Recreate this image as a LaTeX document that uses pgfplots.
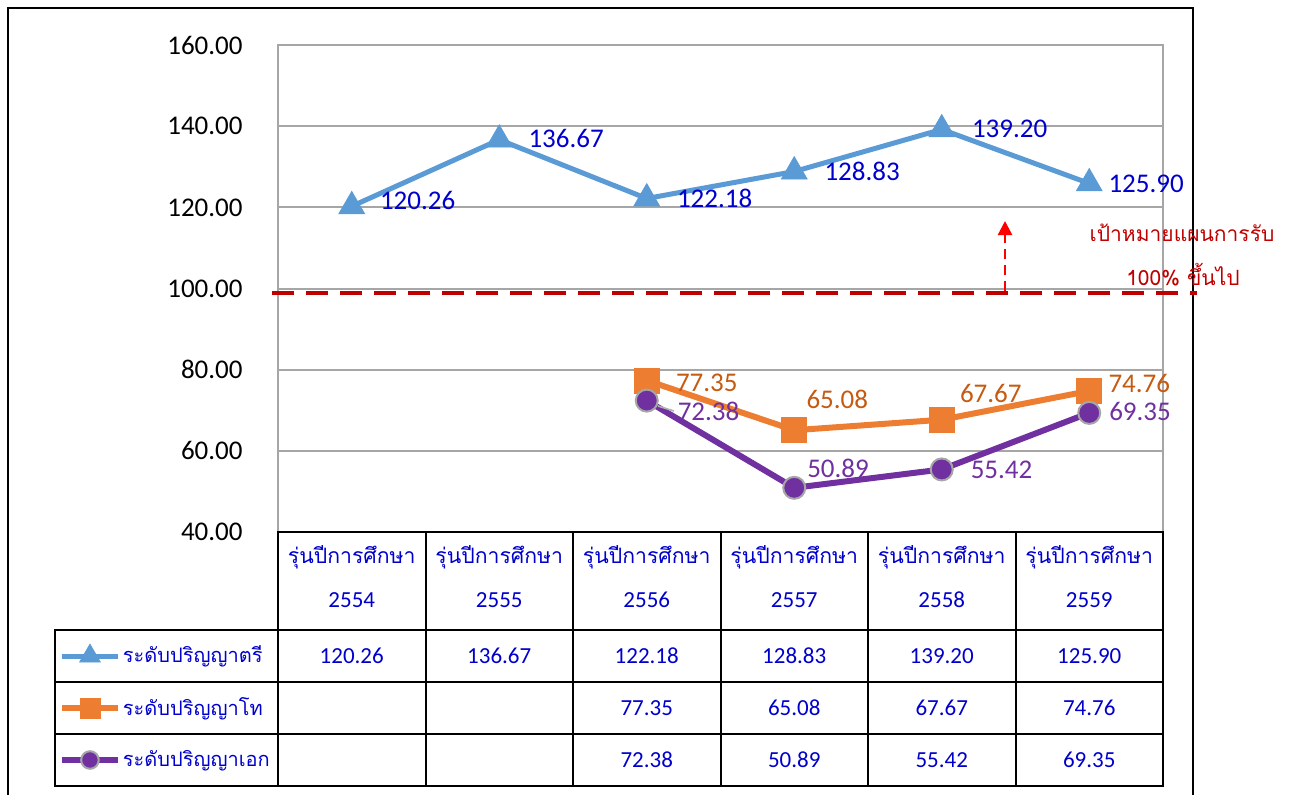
\documentclass[border=0pt]{standalone}
\usepackage{pgfplots}
\pgfplotsset{compat=1.18}
\usepackage{pgfplotstable}
\usepackage{fontspec}
\setmainfont{Carlito}
\newfontfamily\thai[Script=Thai]{Loma}
\usetikzlibrary{arrows.meta}
\definecolor{sblue}{HTML}{5B9BD5}
\definecolor{sorange}{HTML}{ED7D31}
\definecolor{spurple}{HTML}{7030A0}
\definecolor{lblue}{HTML}{0000CC}
\definecolor{lorange}{HTML}{C55A11}
\definecolor{tred}{HTML}{C00000}
\definecolor{gridgray}{HTML}{A6A6A6}

\pgfplotstableread{
x y dx dy
0 120.26 14 3
1 136.67 14.5 0.5
2 122.18 15 0
3 128.83 15 0
4 139.20 15 0.5
5 125.90 9.5 0
}\bach
\pgfplotstableread{
x y dx dy
2 77.35 14.5 -1
3 65.08 6 15.5
4 67.67 9 13
5 74.76 9.5 3.5
}\master
\pgfplotstableread{
x y dx dy
2 72.38 15 -5.5
3 50.89 6 9.5
4 55.42 14 0
5 69.35 9.5 0.5
}\doctor

\begin{document}
\begin{tikzpicture}
\path[use as bounding box] (0,0) rectangle (644.5pt,-397pt);
\begin{axis}[
  at={(139pt,-266pt)}, anchor=south west,
  scale only axis, width=442.5pt, height=243.5pt,
  xmin=-0.5, xmax=5.5, ymin=40, ymax=160,
  ytick={40,60,...,160}, xtick=\empty,
  ymajorgrids, grid style={gridgray, line width=1pt},
  axis line style={gridgray, line width=0.8pt},
  major tick length=0pt,
  /pgf/number format/assume math mode=true,
  yticklabel style={/pgf/number format/fixed, /pgf/number format/fixed zerofill, /pgf/number format/precision=2,
     font=\fontsize{13.5}{16}\selectfont, text=black, anchor=east, inner sep=0pt, xshift=-17.5pt},
  clip=false,
  nodes near coords={\pgfmathprintnumber[fixed,fixed zerofill,precision=2]{\pgfplotspointmeta}},
  visualization depends on={\thisrow{dx}\as\dx},
  visualization depends on={\thisrow{dy}\as\dy},
  nodes near coords style={anchor=west, inner sep=0pt, xshift=\dx pt, yshift=\dy pt, font=\fontsize{13.5}{16}\selectfont},
  legend style={at={(axis description cs:-0.2475,-0.2012)}, anchor=north west, draw=none, fill=none,
     inner sep=0pt, outer sep=0pt, row sep=0pt, column sep=0pt,
     nodes={minimum height=26pt, inner sep=1pt, text=lblue, font=\thai\fontsize{10}{12}\selectfont}},
  legend cell align=left,
  legend image code/.code={\draw[mark repeat=2,mark phase=2,#1, every mark/.append style={scale=0.8}] plot coordinates {(0pt,0pt) (14pt,0pt) (28pt,0pt)};},
]
\addplot[sblue, line width=2.5pt, mark=triangle*, mark size=7.5pt, mark options={line width=0.3pt},
   nodes near coords style={text=lblue}] table[x=x,y=y] {\bach};
\addlegendentry{ระดับปริญญาตรี}
\addplot[sorange, line width=3pt, mark=square*, mark size=6.25pt, mark options={line width=0.3pt},
   nodes near coords style={text=lorange}] table[x=x,y=y] {\master};
\addlegendentry{ระดับปริญญาโท}
\addplot[spurple, line width=3pt, mark=*, mark size=5.5pt, mark options={draw=gray!70, fill=spurple, line width=1pt},
   nodes near coords style={text=spurple}] table[x=x,y=y] {\doctor};
\addlegendentry{ระดับปริญญาเอก}
\end{axis}
\begin{scope}[x=0.5pt,y=-0.5pt]
  % outer frame
  \draw[line width=1.2pt] (8,800) -- (8,8) -- (1193,8) -- (1193,800);
  % leader line
  \draw[gray!60, line width=0.8pt] (658,406) -- (674,411);
  % target line
  \draw[tred, line width=2pt, dash pattern=on 11pt off 6pt] (272,293) -- (1197,293);
  \draw[red, line width=1.2pt, dash pattern=on 5pt off 3pt, -{Triangle[width=7pt,length=7pt]}] (1005,291) -- (1005,221);
  \node[tred, font=\thai\fontsize{10.5}{12}\selectfont] at (1182,233) {เป้าหมายแผนการรับ};
  \node[tred, font=\thai\fontsize{10.5}{12}\selectfont] at (1183,275) {100\% ขึ้นไป};
  % table
  \begin{scope}[line width=1pt]
    \draw (278,532) rectangle (1163,786);
    \draw (55,630) rectangle (278,786);
    \foreach \yy in {630,682,734} \draw (55,\yy) -- (1163,\yy);
    \foreach \xx in {425.5,573,720.5,868,1015.5} \draw (\xx,532) -- (\xx,786);
  \end{scope}
  \foreach \yr [count=\i from 0] in {2554,2555,2556,2557,2558,2559} {
    \node[lblue, font=\thai\fontsize{10.6}{13}\selectfont] at (351.75+147.5*\i,557) {รุ่นปีการศึกษา};
    \node[lblue, font=\fontsize{11.5}{13}\selectfont] at (351.75+147.5*\i,600) {\yr};
  }
  \foreach \v [count=\i from 0] in {120.26,136.67,122.18,128.83,139.20,125.90}
    \node[lblue, font=\fontsize{11.5}{13}\selectfont] at (351.75+147.5*\i,656) {\v};
  \foreach \v [count=\i from 2] in {77.35,65.08,67.67,74.76}
    \node[lblue, font=\fontsize{11.5}{13}\selectfont] at (351.75+147.5*\i,708) {\v};
  \foreach \v [count=\i from 2] in {72.38,50.89,55.42,69.35}
    \node[lblue, font=\fontsize{11.5}{13}\selectfont] at (351.75+147.5*\i,760) {\v};
\end{scope}
\end{tikzpicture}
\end{document}
